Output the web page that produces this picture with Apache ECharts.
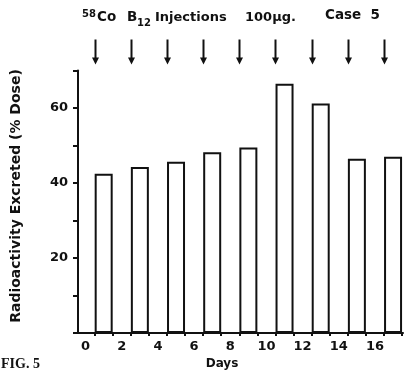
<!DOCTYPE html>
<html>
<head>
<meta charset="utf-8">
<script src="https://cdn.jsdelivr.net/npm/echarts@6/dist/echarts.min.js"></script>
<style>
  html, body { margin: 0; padding: 0; background: #fff; }
  #chart { width: 404px; height: 370px; }
</style>
</head>
<body>
<div id="chart"></div>
<script>
// Day at the centre of each 24 h collection period
const collectionDays = [1, 3, 5, 7, 9, 11, 13, 15, 17];
// Radioactivity excreted, % of dose
const excreted = [42.5, 44.3, 45.7, 48.2, 49.5, 66.5, 61.2, 46.5, 47.0];
// Days on which the labelled B12 was injected
const injectionDays = [0.5, 2.5, 4.5, 6.5, 8.5, 10.5, 12.5, 14.5, 16.5];
// Axis labels and ticks
const dayLabels = [0, 2, 4, 6, 8, 10, 12, 14, 16];
const dayTicks = [0.5, 1.5, 2.5, 3.5, 4.5, 5.5, 6.5, 7.5, 8.5, 9.5, 10.5, 11.5, 12.5, 13.5, 14.5, 15.5, 16.5, 17.5];
const yLabels = [20, 40, 60];

const FONT = 'DejaVu Sans';
const INK = '#111';

const chart = echarts.init(document.getElementById('chart'), null, { renderer: 'canvas' });

function txt(x, y, text, size, extra) {
  return {
    type: 'text', x: x, y: y,
    style: Object.assign({
      text: text, fontFamily: FONT, fontWeight: 'bold', fontSize: size,
      fill: INK, align: 'left', verticalAlign: 'bottom'
    }, extra || {})
  };
}

chart.setOption({
  animation: false,
  backgroundColor: '#fff',
  grid: { left: 78, right: 1, top: 70.5, bottom: 37, containLabel: false },
  xAxis: {
    type: 'value',
    min: -0.42,
    max: 17.55,
    splitLine: { show: false },
    axisLine: { lineStyle: { color: INK, width: 2 } },
    axisTick: { show: true, customValues: dayTicks, length: 3, lineStyle: { color: INK, width: 2 } },
    axisLabel: {
      customValues: dayLabels,
      color: INK, fontFamily: FONT, fontWeight: 'bold', fontSize: 13, margin: 7
    }
  },
  yAxis: {
    type: 'value',
    min: 0,
    max: 70,
    interval: 10,
    splitLine: { show: false },
    axisLine: { show: true, onZero: false, lineStyle: { color: INK, width: 2 } },
    axisTick: { show: true, length: 5, lineStyle: { color: INK, width: 2 } },
    axisLabel: {
      color: INK, fontFamily: FONT, fontWeight: 'bold', fontSize: 13, margin: 10,
      formatter: v => (yLabels.indexOf(v) >= 0 ? String(v) : '')
    }
  },
  series: [
    {
      type: 'bar',
      data: collectionDays.map((d, i) => [d, excreted[i]]),
      barWidth: 18,
      itemStyle: { color: '#fff', borderColor: INK, borderWidth: 2 }
    },
    {
      // injection arrows above the plot
      type: 'custom',
      clip: false,
      data: injectionDays.map(d => [d, 70]),
      renderItem: (params, api) => {
        const p = api.coord([api.value(0), api.value(1)]);
        const x = Math.round(p[0]) + 0.5;
        const top = p[1] - 31, tip = p[1] - 6;
        return {
          type: 'group',
          children: [
            { type: 'line', shape: { x1: x, y1: top, x2: x, y2: tip - 4 }, style: { stroke: INK, lineWidth: 2 } },
            { type: 'polygon', shape: { points: [[x - 3.5, tip - 7], [x + 3.5, tip - 7], [x, tip]] }, style: { fill: INK } }
          ]
        };
      }
    }
  ],
  graphic: [
    txt(82, 19, '58', 10),
    txt(97, 24, 'Co', 13.5),
    txt(127, 24, 'B', 13.5),
    txt(137, 28, '12', 10),
    txt(155, 24, 'Injections', 13),
    txt(245, 24, '100µg.', 13),
    txt(325, 22, 'Case  5', 13.5),
    {
      type: 'text', x: 16, y: 196, rotation: Math.PI / 2,
      style: {
        text: 'Radioactivity Excreted (% Dose)', fontFamily: FONT, fontWeight: 'bold', fontSize: 14,
        fill: INK, align: 'center', verticalAlign: 'middle'
      }
    },
    {
      type: 'text', x: 222, y: 364,
      style: { text: 'Days', fontFamily: FONT, fontWeight: 'bold', fontSize: 12, fill: INK, align: 'center', verticalAlign: 'middle' }
    },
    {
      type: 'text', x: 1, y: 357,
      style: { text: 'FIG. 5', fontFamily: 'Liberation Serif', fontWeight: 'bold', fontSize: 14, fill: INK }
    }
  ]
});
</script>
</body>
</html>
